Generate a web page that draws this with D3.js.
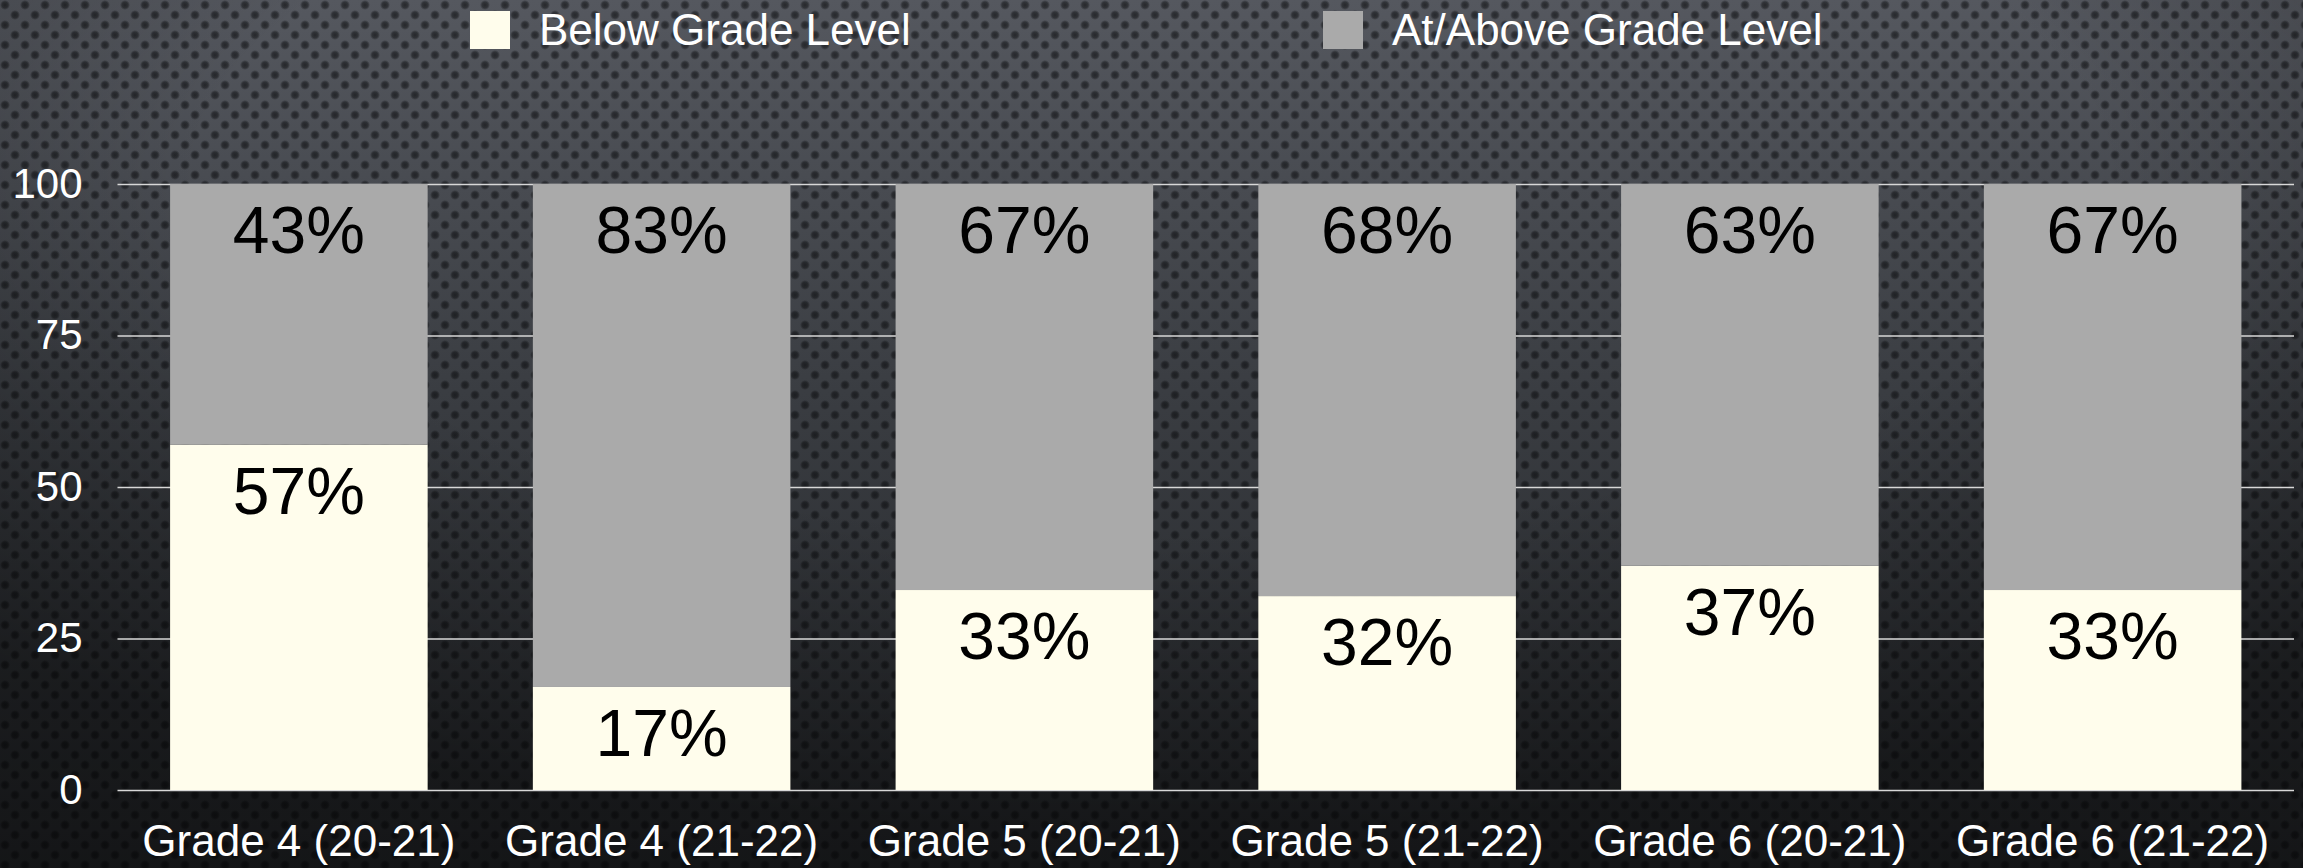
<!DOCTYPE html>
<html>
<head>
<meta charset="utf-8">
<script src="https://cdn.jsdelivr.net/npm/d3@7"></script>
<style>
  html, body { margin: 0; padding: 0; background: #2a2c30; }
  svg { display: block; font-family: "Liberation Sans", Arial, Helvetica, sans-serif; }
</style>
</head>
<body>
<svg></svg>
<script>
const CATEGORIES = ["Grade 4 (20-21)", "Grade 4 (21-22)", "Grade 5 (20-21)", "Grade 5 (21-22)", "Grade 6 (20-21)", "Grade 6 (21-22)"];
const BELOW = [57, 17, 33, 32, 37, 33];
const ABOVE = [43, 83, 67, 68, 63, 67];
const SERIES = ["Below Grade Level", "At/Above Grade Level"];
const Y_TICKS = [0, 25, 50, 75, 100];

const WIDTH = 2303;
const HEIGHT = 868;
const PLOT = {left: 117.5, right: 2294, top: 184, bottom: 790};
const COLORS = {below: '#fffdec', above: '#aaaaaa'};

const svg = d3.select('svg')
.attr('width', WIDTH)
.attr('height', HEIGHT);

// background: perforated metal look
const defs = svg.append('defs');

const bgGrad = defs.append('linearGradient')
.attr('id', 'bgGrad')
.attr('x1', 0).attr('y1', 0).attr('x2', 0).attr('y2', 1);
bgGrad.append('stop').attr('offset', '0%').attr('stop-color', '#55585f');
bgGrad.append('stop').attr('offset', '45%').attr('stop-color', '#3a3d42');
bgGrad.append('stop').attr('offset', '100%').attr('stop-color', '#222427');

const vignette = defs.append('radialGradient')
.attr('id', 'vignette')
.attr('cx', '50%').attr('cy', '20%').attr('r', '75%');
vignette.append('stop').attr('offset', '55%').attr('stop-color', '#000').attr('stop-opacity', 0);
vignette.append('stop').attr('offset', '100%').attr('stop-color', '#000').attr('stop-opacity', 0.4);

const holeGrad = defs.append('radialGradient').attr('id', 'holeGrad');
holeGrad.append('stop').attr('offset', '0%').attr('stop-color', '#08090b').attr('stop-opacity', 0.6);
holeGrad.append('stop').attr('offset', '60%').attr('stop-color', '#08090b').attr('stop-opacity', 0.45);
holeGrad.append('stop').attr('offset', '100%').attr('stop-color', '#08090b').attr('stop-opacity', 0);

const holes = defs.append('pattern')
.attr('id', 'holes')
.attr('width', 20).attr('height', 20)
.attr('patternUnits', 'userSpaceOnUse');
[[5, 5], [15, 15], [-5, 15], [25, -5], [15, -5], [-5, 25], [25, 15]].forEach(([cx, cy]) => {
    holes.append('circle').attr('cx', cx).attr('cy', cy).attr('r', 5)
    .attr('fill', 'url(#holeGrad)');
});

svg.append('rect').attr('width', WIDTH).attr('height', HEIGHT).attr('fill', 'url(#bgGrad)');
svg.append('rect').attr('width', WIDTH).attr('height', HEIGHT).attr('fill', 'url(#holes)');
svg.append('rect').attr('width', WIDTH).attr('height', HEIGHT).attr('fill', 'url(#vignette)');

//scales
const xScale = d3.scaleBand()
.domain(CATEGORIES)
.range([PLOT.left, PLOT.right])
.paddingInner(0.29)
.paddingOuter(0.145);

const yScale = d3.scaleLinear()
.domain([0, 100])
.range([PLOT.bottom, PLOT.top]);

//gridlines
const grid = svg.append('g')
.attr('transform', `translate(${PLOT.left}, 0)`)
.call(d3.axisLeft(yScale).tickValues(Y_TICKS).tickSize(-(PLOT.right - PLOT.left)).tickFormat(''));
grid.select('.domain').remove();
grid.selectAll('.tick line').attr('stroke', '#d8d8d8').attr('stroke-width', 1.6);

//y labels
const yAxis = svg.append('g')
.attr('transform', `translate(${PLOT.left}, 0)`)
.call(d3.axisLeft(yScale).tickValues(Y_TICKS).tickSize(0).tickPadding(35));
yAxis.select('.domain').remove();
yAxis.selectAll('text')
.attr('fill', '#ffffff')
.style('font-size', '42px');

//stack
const table = CATEGORIES.map((c, i) => ({name: c, below: BELOW[i], above: ABOVE[i]}));
const stacked = d3.stack().keys(['below', 'above'])(table);

const layers = svg.append('g')
.selectAll('g')
.data(stacked)
.enter()
.append('g')
.attr('fill', d => COLORS[d.key]);

layers.selectAll('rect')
.data(d => d)
.enter()
.append('rect')
.attr('x', d => xScale(d.data.name))
.attr('width', xScale.bandwidth())
.attr('y', d => yScale(d[1]))
.attr('height', d => yScale(d[0]) - yScale(d[1]));

//value labels
layers.selectAll('.label')
.data(d => d.map(v => ({v, key: d.key})))
.enter()
.append('text')
.classed('label', true)
.text(d => d.v.data[d.key] + '%')
.attr('x', d => xScale(d.v.data.name) + xScale.bandwidth() / 2)
.attr('y', d => yScale(d.v[1]) + 69)
.attr('text-anchor', 'middle')
.attr('fill', '#000000')
.style('font-size', '66px');

//x labels
const xAxis = svg.append('g')
.attr('transform', `translate(0, ${PLOT.bottom})`)
.call(d3.axisBottom(xScale).tickSize(0).tickPadding(0));
xAxis.select('.domain').remove();
xAxis.selectAll('text')
.attr('fill', '#ffffff')
.attr('dy', null)
.attr('y', 66)
.style('font-size', '44px');

//legend
const legendX = [470, 1323];
const legend = svg.append('g')
.selectAll('g')
.data(SERIES)
.enter()
.append('g')
.attr('transform', (d, i) => `translate(${legendX[i]}, 11)`);

legend.append('rect')
.attr('width', 40)
.attr('height', 38)
.attr('fill', (d, i) => i === 0 ? COLORS.below : COLORS.above);

legend.append('text')
.text(d => d)
.attr('x', 69)
.attr('y', 34)
.attr('fill', '#ffffff')
.style('font-size', '44px');
</script>
</body>
</html>
